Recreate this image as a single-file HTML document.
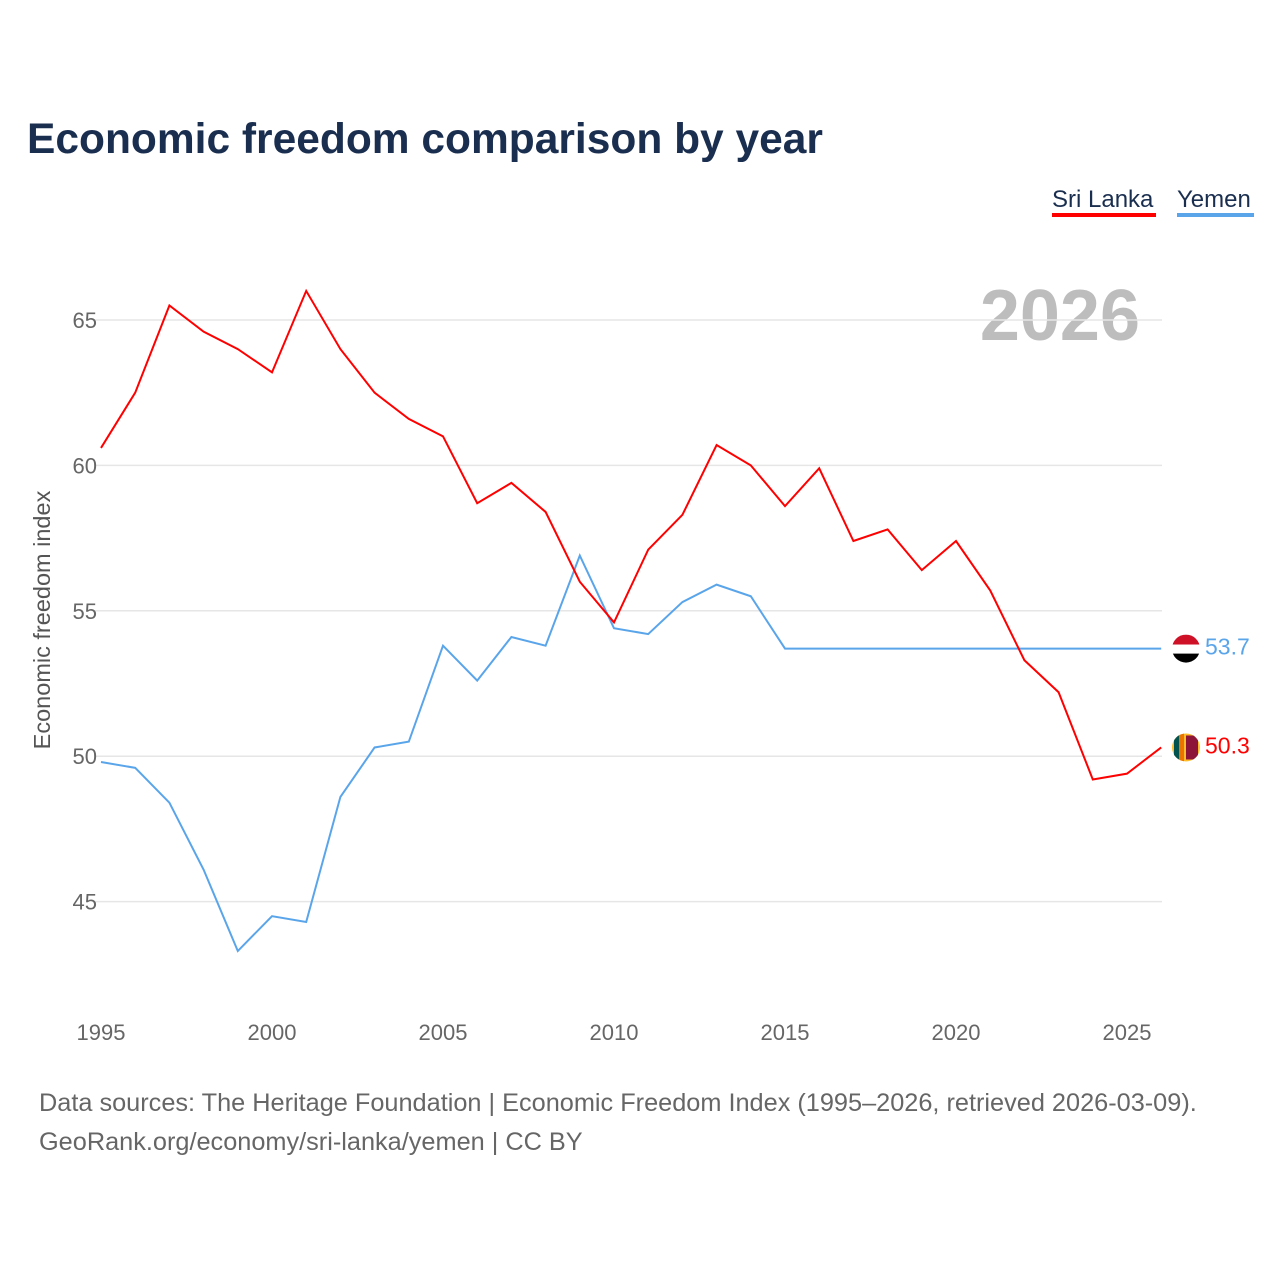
<!DOCTYPE html>
<html><head><meta charset="utf-8"><style>
body{margin:0;background:#fff;font-family:"Liberation Sans",sans-serif}
</style></head><body>
<svg id="c" width="1280" height="1280" xmlns="http://www.w3.org/2000/svg">
<defs>
<clipPath id="cy"><circle cx="1186" cy="649" r="14"/></clipPath>
<clipPath id="cs"><circle cx="1186" cy="748" r="14"/></clipPath>
</defs>
<text x="27" y="153" font-size="42.5" font-weight="bold" fill="#1a2e4f">Economic freedom comparison by year</text>
<g><text x="1052" y="207" font-size="24" fill="#1a2e4f">Sri Lanka</text><rect x="1052" y="213" width="104" height="4" fill="#ff0000"/></g>
<g><text x="1177" y="207" font-size="24" fill="#1a2e4f">Yemen</text><rect x="1177" y="213" width="77" height="4" fill="#5aa5ea"/></g>
<text x="1140" y="340" font-size="72" font-weight="bold" fill="#bdbdbd" text-anchor="end">2026</text>
<text transform="translate(50,620) rotate(-90)" font-size="23.5" fill="#555" text-anchor="middle">Economic freedom index</text>
<g id="grid"></g><g id="lines"></g>
<text x="39" y="1111" font-size="25.3" fill="#666">Data sources: The Heritage Foundation | Economic Freedom Index (1995–2026, retrieved 2026-03-09).</text>
<text x="39" y="1150" font-size="25.3" fill="#666">GeoRank.org/economy/sri-lanka/yemen | CC BY</text>
</svg>
<script>
const years=[1995,1996,1997,1998,1999,2000,2001,2002,2003,2004,2005,2006,2007,2008,2009,2010,2011,2012,2013,2014,2015,2016,2017,2018,2019,2020,2021,2022,2023,2024,2025,2026];
const sriLanka=[60.6,62.5,65.5,64.6,64.0,63.2,66.0,64.0,62.5,61.6,61.0,58.7,59.4,58.4,56.0,54.6,57.1,58.3,60.7,60.0,58.6,59.9,57.4,57.8,56.4,57.4,55.7,53.3,52.2,49.2,49.4,50.3];
const yemen=[49.8,49.6,48.4,46.1,43.3,44.5,44.3,48.6,50.3,50.5,53.8,52.6,54.1,53.8,56.9,54.4,54.2,55.3,55.9,55.5,53.7,53.7,53.7,53.7,53.7,53.7,53.7,53.7,53.7,53.7,53.7,53.7];
const yTicks=[45,50,55,60,65];
const xTicks=[1995,2000,2005,2010,2015,2020,2025];
const NS="http://www.w3.org/2000/svg";
const x=v=>101+(v-1995)*34.2;
const y=v=>320+(65-v)*29.08;
const grid=document.getElementById('grid'),lines=document.getElementById('lines');
function mk(t,a,p){const e=document.createElementNS(NS,t);for(const k in a)e.setAttribute(k,a[k]);p.appendChild(e);return e;}
yTicks.forEach(t=>{
const l=mk('line',{x1:95,x2:1162,y1:y(t),y2:y(t),stroke:'#e6e6e6','stroke-width':1.5},grid);


const tx=mk('text',{x:97,y:y(t)+8,'font-size':22,fill:'#666','text-anchor':'end'},grid);tx.textContent=t;


});
xTicks.forEach(t=>{
const tx=mk('text',{x:x(t),y:1040,'font-size':22,fill:'#666','text-anchor':'middle'},grid);tx.textContent=t;


});
function series(vals,col,name,flag){
const p=mk('path',{d:vals.map((v,i)=>(i?'L':'M')+x(years[i])+','+y(v)).join(''),fill:'none',stroke:col,'stroke-width':2},lines);


const last=vals[vals.length-1];
const cy=y(last);
const g=mk('g',{'clip-path':'url(#'+flag+')'},lines);


document.getElementById(flag).firstElementChild.setAttribute('cy',cy);
if(flag==='cy'){
mk('rect',{x:1172,y:cy-14,width:28,height:10,fill:'#ce1126'},g);
mk('rect',{x:1172,y:cy-4,width:28,height:9,fill:'#fff'},g);
mk('rect',{x:1172,y:cy+5,width:28,height:10,fill:'#000'},g);
}else{
mk('rect',{x:1172,y:cy-14,width:28,height:28,fill:'#ffbe29'},g);
mk('rect',{x:1174,y:cy-14,width:5,height:28,fill:'#00534e'},g);
mk('rect',{x:1179,y:cy-14,width:5,height:28,fill:'#eb7400'},g);
mk('rect',{x:1186,y:cy-12,width:12,height:24,fill:'#8d153a'},g);
}
const t=mk('text',{x:1205,y:cy+6,'font-size':23,fill:col},lines);t.textContent=last.toFixed(1);


}
series(yemen,'#5aa5ea','yemen','cy');
series(sriLanka,'#ff0000','sri-lanka','cs');
</script>
</body></html>
